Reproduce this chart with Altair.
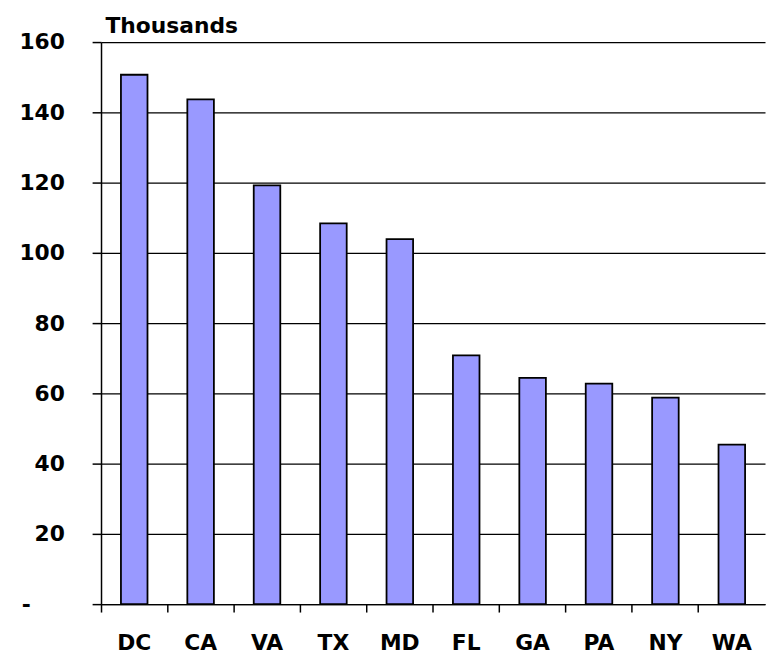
import altair as alt
import pandas as pd

states = ["DC", "CA", "VA", "TX", "MD", "FL", "GA", "PA", "NY", "WA"]
values = [150.7, 143.7, 119.2, 108.4, 103.9, 70.8, 64.4, 62.8, 58.8, 45.4]
y_ticks = [0, 20, 40, 60, 80, 100, 120, 140, 160]

df = pd.DataFrame({"state": states, "value": values})

FONT = "DejaVu Sans"

chart = alt.Chart(df).mark_bar(
    color="#9999FF", stroke="black", strokeWidth=1.8,
    width=alt.RelativeBandSize(band=0.4)
).encode(
    x=alt.X("state:N", sort=states,
            scale=alt.Scale(paddingInner=0, paddingOuter=0),
            axis=alt.Axis(title=None, labelAngle=0, bandPosition=0,
                          labelFont=FONT, labelFontWeight="bold",
                          labelFontSize=22, labelColor="black", labelPadding=21,
                          tickColor="black", tickSize=8, tickWidth=1.5,
                          domainColor="black", domainWidth=1.5, grid=False)),
    y=alt.Y("value:Q",
            scale=alt.Scale(domain=[0, 160], nice=False, zero=True),
            axis=alt.Axis(values=y_ticks, grid=True, gridColor="black", gridWidth=1.2,
                          gridOpacity=1,
                          labelExpr="datum.value == 0 ? '-\u2800\u2800' : datum.label",
                          labelFont=FONT, labelFontWeight="bold", labelFontSize=22,
                          labelColor="black", labelPadding=28,
                          tickColor="black", tickSize=9, tickWidth=1.5,
                          domainColor="black", domainWidth=1.5,
                          title="Thousands", titleAngle=0, titleAlign="left",
                          titleBaseline="alphabetic", titleX=4, titleY=-10,
                          titleFont=FONT, titleFontWeight="bold", titleFontSize=22,
                          titleColor="black"))
).properties(
    width=671, height=568, autosize="none",
    padding={"left": 94, "top": 31, "right": 1, "bottom": 50},
    background="white"
).configure_view(strokeWidth=0)

chart.save("out.html", embed_options={"renderer": "svg", "actions": False})
